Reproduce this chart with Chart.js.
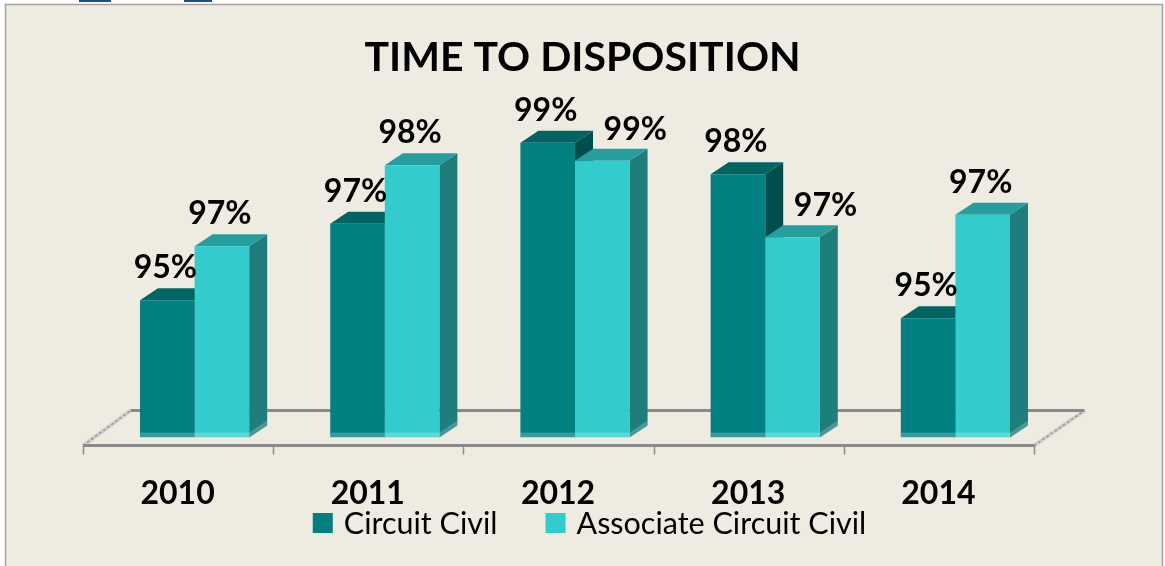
<!DOCTYPE html>
<html>
<head>
<meta charset="utf-8">
<script src="https://cdn.jsdelivr.net/npm/chart.js@4.4.1/dist/chart.umd.min.js"></script>
<style>
  html, body { margin: 0; padding: 0; background: #fff; }
  #wrap { width: 1165px; height: 566px; }
</style>
</head>
<body>
<div id="wrap"><canvas id="dispositionChart" width="1165" height="566"></canvas></div>
<script>
// dati
const years = ['2010', '2011', '2012', '2013', '2014'];
const circuitCivil = [95.4, 97.1, 98.9, 98.2, 95.0];
const associateCircuitCivil = [96.6, 98.4, 98.5, 96.8, 97.3];

const seriesNames = ['Circuit Civil', 'Associate Circuit Civil'];
const yMin = 92.35, yMax = 100;

// colori delle facce 3D
const frontColors = ['#008080', '#33CCCC'];
const topColors = ['#006464', '#279e9e'];
const sideColors = ['#004f4f', '#1f7d7b'];

const depthX = 18, depthY = 12;
const FONT = 'Lato, "Open Sans", sans-serif';

// sfondo e cornice
const framePlugin = {
    id: 'frame',
    beforeDraw(chart) {
        const ctx = chart.ctx;
        ctx.save();
        ctx.fillStyle = '#ffffff';
        ctx.fillRect(0, 0, chart.width, chart.height);
        ctx.fillStyle = '#1f4e8c';
        ctx.fillRect(79, 0, 32, 2);
        ctx.fillRect(184, 0, 28, 2);
        ctx.fillStyle = '#EEEBE0';
        ctx.fillRect(5, 4, 1158, chart.height);
        ctx.strokeStyle = '#a3a3a3';
        ctx.lineWidth = 1.5;
        ctx.strokeRect(5.5, 4.5, 1157, chart.height + 5);
        ctx.restore();
    }
};

// pavimento e facce laterali/superiori
const bars3dPlugin = {
    id: 'bars3d',
    beforeDatasetsDraw(chart) {
        const ctx = chart.ctx;
        const area = chart.chartArea;
        const n = chart.data.labels.length;
        const cat = (area.right - area.left) / n;
        const fy = area.bottom + 8, by = area.bottom - 27;
        const fl = area.left - 16.5, fr = area.right - 16.5;
        const bl = area.left + 31, br = area.right + 34;
        ctx.save();
        // lati del pavimento
        [[fl, bl], [fr, br]].forEach(([a, b]) => {
            ctx.beginPath();
            ctx.moveTo(a, fy);
            ctx.lineTo(b, by);
            ctx.strokeStyle = '#d2d2d2';
            ctx.lineWidth = 4;
            ctx.stroke();
            ctx.setLineDash([3, 2]);
            ctx.strokeStyle = '#9a9a9a';
            ctx.lineWidth = 1.5;
            ctx.stroke();
            ctx.setLineDash([]);
        });
        ctx.strokeStyle = '#8a8a8a';
        ctx.lineWidth = 3;
        ctx.beginPath();
        ctx.moveTo(bl, by);
        ctx.lineTo(br, by);
        ctx.moveTo(fl, fy);
        ctx.lineTo(fr, fy);
        ctx.stroke();
        ctx.lineWidth = 1.5;
        ctx.beginPath();
        for (let i = 0; i <= n; i++) {
            const x = Math.round(fl + i * cat) + 0.5;
            ctx.moveTo(x, fy);
            ctx.lineTo(x, fy + 9);
        }
        ctx.stroke();

        chart.data.datasets.forEach((ds, di) => {
            chart.getDatasetMeta(di).data.forEach(bar => {
                const p = bar.getProps(['x', 'y', 'base', 'width'], true);
                const l = p.x - p.width / 2, r = p.x + p.width / 2;
                ctx.fillStyle = sideColors[di];
                ctx.beginPath();
                ctx.moveTo(r, p.y);
                ctx.lineTo(r + depthX, p.y - depthY);
                ctx.lineTo(r + depthX, p.base - depthY);
                ctx.lineTo(r, p.base);
                ctx.closePath();
                ctx.fill();
                ctx.fillStyle = 'rgba(255,255,255,0.2)';
                ctx.beginPath();
                ctx.moveTo(r, p.base - 5);
                ctx.lineTo(r + depthX, p.base - depthY - 5);
                ctx.lineTo(r + depthX, p.base - depthY);
                ctx.lineTo(r, p.base);
                ctx.closePath();
                ctx.fill();
                ctx.fillStyle = topColors[di];
                ctx.beginPath();
                ctx.moveTo(l, p.y);
                ctx.lineTo(l + depthX, p.y - depthY);
                ctx.lineTo(r + depthX, p.y - depthY);
                ctx.lineTo(r, p.y);
                ctx.closePath();
                ctx.fill();
            });
        });
        ctx.restore();
    },
    afterDatasetsDraw(chart) {
        const ctx = chart.ctx;
        ctx.save();
        ctx.font = 'bold 32px ' + FONT;
        ctx.textAlign = 'center';
        ctx.textBaseline = 'alphabetic';
        chart.data.datasets.forEach((ds, di) => {
            chart.getDatasetMeta(di).data.forEach((bar, i) => {
                const p = bar.getProps(['x', 'y', 'base', 'width'], true);
                // striscia chiara alla base
                ctx.fillStyle = 'rgba(255,255,255,0.22)';
                ctx.fillRect(p.x - p.width / 2, p.base - 5, p.width, 5);
                // etichetta spostata a destra se la barra accanto e' piu' alta
                const prev = di > 0 ? chart.data.datasets[di - 1].data[i] : -Infinity;
                const shifted = prev > ds.data[i];
                ctx.fillStyle = '#000';
                ctx.fillText(Math.round(ds.data[i]) + '%', shifted ? p.x + 33 : p.x - 2, p.y - (shifted ? 21 : 22));
            });
        });
        ctx.restore();
    }
};

// legenda disegnata a mano
const legendPlugin = {
    id: 'customLegend',
    afterDraw(chart) {
        const ctx = chart.ctx;
        ctx.save();
        ctx.font = '30.5px ' + FONT;
        ctx.textBaseline = 'middle';
        const box = 20, gapText = 11, gapItem = 48;
        const items = chart.data.datasets.map(ds => ({ text: ds.label, color: ds.backgroundColor, w: ctx.measureText(ds.label).width }));
        const total = items.reduce((s, it) => s + box + gapText + it.w, 0) + gapItem * (items.length - 1);
        let x = 589.5 - total / 2;
        items.forEach(it => {
            ctx.fillStyle = it.color;
            ctx.fillRect(x, 513, box, box);
            ctx.fillStyle = '#000';
            ctx.fillText(it.text, x + box + gapText, 524);
            x += box + gapText + it.w + gapItem;
        });
        ctx.restore();
    }
};

const ctx = document.getElementById('dispositionChart').getContext('2d');
window.dispositionChart = new Chart(ctx, {
    type: 'bar',
    data: {
        labels: years,
        datasets: [{
            label: seriesNames[0],
            data: circuitCivil,
            backgroundColor: frontColors[0],
            borderWidth: 0,
            base: yMin,
            categoryPercentage: 0.574,
            barPercentage: 1
        }, {
            label: seriesNames[1],
            data: associateCircuitCivil,
            backgroundColor: frontColors[1],
            borderWidth: 0,
            base: yMin,
            categoryPercentage: 0.574,
            barPercentage: 1
        }]
    },
    options: {
        responsive: false,
        animation: false,
        layout: { padding: { top: 0, left: 0, right: 0, bottom: 16 } },
        plugins: {
            legend: { display: false },
            tooltip: { enabled: false },
            title: {
                display: true,
                text: 'TIME TO DISPOSITION',
                color: '#000',
                font: { family: FONT, size: 41, weight: 'bold' },
                padding: { top: 33, bottom: 11 }
            }
        },
        scales: {
            x: {
                grid: { display: false, drawTicks: false },
                border: { display: false },
                ticks: {
                    color: '#000',
                    font: { family: FONT, size: 32, weight: 'bold' },
                    padding: 37,
                    labelOffset: -17,
                    maxRotation: 0
                }
            },
            y: {
                position: 'left',
                min: yMin,
                max: yMax,
                grid: { display: false },
                border: { display: false },
                ticks: { display: false },
                afterFit(scale) { scale.width = 99.5; }
            },
            yRight: {
                position: 'right',
                grid: { display: false },
                border: { display: false },
                ticks: { display: false },
                afterFit(scale) { scale.width = 114.5; }
            }
        }
    },
    plugins: [framePlugin, bars3dPlugin, legendPlugin]
});
</script>
</body>
</html>
